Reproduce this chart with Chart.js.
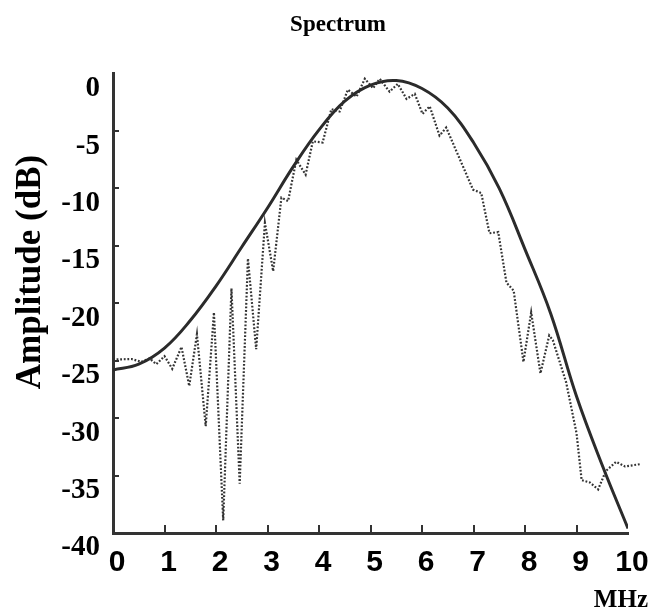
<!DOCTYPE html>
<html>
<head>
<meta charset="utf-8">
<title>Spectrum</title>
<script src="https://cdn.jsdelivr.net/npm/chart.js@4.4.1/dist/chart.umd.min.js"></script>
<style>
  html, body { margin: 0; padding: 0; background: #ffffff; }
  #wrap { width: 658px; height: 614px; }
</style>
</head>
<body>
<div id="wrap"><canvas id="spectrumChart"></canvas></div>
<script>
"use strict";

// frequency (MHz) and amplitude (dB) of the smooth model spectrum
const modelFreq = [0, 0.5, 1, 1.5, 2, 2.5, 3, 3.5, 4, 4.5, 5, 5.5, 6, 6.5, 7, 7.5, 8, 8.5, 9, 9.5, 10];
const modelAmp = [-25.8, -25.3, -23.9, -21.5, -18.5, -15.1, -11.7, -8.1, -4.9, -2.4, -1.0, -0.6, -1.3, -3.0, -6.0, -10.0, -15.3, -20.9, -28.1, -34.1, -39.6];

// measured spectrum (dotted line)
const measFreq = [0, 0.36, 0.55, 0.71, 0.84, 1.0, 1.15, 1.33, 1.48, 1.63, 1.8, 1.96, 2.14, 2.3, 2.46, 2.62, 2.78, 2.95, 3.11, 3.27, 3.4, 3.56, 3.74, 3.88, 4.07, 4.24, 4.4, 4.56, 4.73, 4.89, 5.05, 5.18, 5.37, 5.53, 5.7, 5.86, 6.01, 6.15, 6.34, 6.47, 6.99, 7.15, 7.31, 7.48, 7.64, 7.78, 7.97, 8.12, 8.3, 8.47, 8.54, 8.8, 9.0, 9.1, 9.26, 9.42, 9.57, 9.77, 9.94, 10.25];
const measAmp = [-24.9, -24.85, -25.1, -24.8, -25.3, -24.6, -25.7, -23.8, -27.2, -22.7, -30.7, -20.8, -38.9, -18.7, -35.7, -16.1, -24.0, -13.0, -17.2, -10.8, -11.1, -7.5, -8.8, -5.9, -6.0, -3.1, -3.3, -1.4, -2.0, -0.45, -1.27, -0.46, -1.57, -0.9, -2.2, -1.77, -3.5, -2.85, -5.4, -4.7, -10.1, -10.4, -13.9, -13.8, -18.2, -18.9, -25.1, -20.8, -26.1, -22.8, -23.2, -26.9, -31.3, -35.4, -35.6, -36.2, -34.6, -33.8, -34.2, -34.0];

// axis ticks
const xTicks = [0, 1, 2, 3, 4, 5, 6, 7, 8, 9, 10];
const yTicks = [0, -5, -10, -15, -20, -25, -30, -35, -40];

const ink = "#333333";
const serif = "'Liberation Serif', 'Times New Roman', serif";
const sans = "'Liberation Sans Narrow', 'Arial Narrow', 'Liberation Sans', Arial, sans-serif";

function toPoints(xs, ys) {
	return xs.map(function (x, i) {
		return { x: x, y: ys[i] };
	});
}

// small tick marks pointing into the plot, the y title and the MHz unit label
const innerTicks = {
	id: "innerTicks",
	afterDraw(chart) {
		const ctx = chart.ctx;
		const xs = chart.scales.x;
		const ys = chart.scales.y;
		const area = chart.chartArea;
		ctx.save();
		ctx.strokeStyle = ink;
		ctx.lineWidth = 2;
		ctx.beginPath();
		xTicks.slice(1, -1).forEach(function (v) {
			const px = Math.round(xs.getPixelForValue(v));
			ctx.moveTo(px, area.bottom);
			ctx.lineTo(px, area.bottom - 8);
		});
		yTicks.slice(1, -1).forEach(function (v) {
			const py = Math.round(ys.getPixelForValue(v));
			ctx.moveTo(area.left, py);
			ctx.lineTo(area.left + 6, py);
		});
		ctx.stroke();

		ctx.fillStyle = "#000000";
		ctx.font = "bold 25px " + serif;
		ctx.textAlign = "right";
		ctx.textBaseline = "middle";
		ctx.fillText("MHz", 648, 601);

		// y axis title, reads bottom to top
		ctx.translate(31, 272);
		ctx.rotate(-Math.PI / 2);
		ctx.textAlign = "center";
		ctx.font = "bold 35px " + serif;
		ctx.fillText("Amplitude (dB)", 0, 0);
		ctx.restore();
	},
};

new Chart(document.getElementById("spectrumChart"), {
	type: "line",
	data: {
		datasets: [
			{
				label: "Model",
				data: toPoints(modelFreq, modelAmp),
				borderColor: "#2b2b2b",
				borderWidth: 3,
				pointRadius: 0,
				tension: 0.4,
				fill: false,
			},
			{
				label: "Measured",
				data: toPoints(measFreq, measAmp),
				borderColor: ink,
				borderWidth: 2.2,
				borderDash: [1.8, 1.8],
				pointRadius: 0,
				tension: 0,
				fill: false,
				clip: false,
			},
		],
	},
	options: {
		responsive: true,
		maintainAspectRatio: false,
		animation: false,
		layout: { padding: { left: 18, right: 0, top: 0, bottom: 0 } },
		plugins: {
			legend: { display: false },
			tooltip: { enabled: false },
			title: {
				display: true,
				text: "Spectrum",
				color: "#000000",
				font: { family: serif, size: 23, weight: "bold", lineHeight: 1.2 },
				padding: { top: 11, bottom: 35 },
			},
		},
		scales: {
			x: {
				type: "linear",
				min: 0,
				max: 10,
				afterBuildTicks(scale) {
					scale.ticks = xTicks.map(function (v) {
						return { value: v };
					});
				},
				afterFit(scale) {
					scale.height = 81;
				},
				grid: { display: false, drawTicks: false },
				border: { display: true, color: ink, width: 3 },
				ticks: {
					color: "#000000",
					padding: 12,
					labelOffset: 4,
					maxRotation: 0,
					font: { family: sans, size: 30, weight: "bold" },
				},
			},
			y: {
				type: "linear",
				min: -40,
				max: 0,
				afterBuildTicks(scale) {
					scale.ticks = yTicks.map(function (v) {
						return { value: v };
					});
				},
				afterFit(scale) {
					scale.width = 95;
				},
				grid: { display: false, drawTicks: false },
				border: { display: true, color: ink, width: 3 },
				ticks: {
					color: "#000000",
					padding: 13,
					labelOffset: 15,
					font: { family: serif, size: 29, weight: "bold" },
				},
			},
			yRight: {
				type: "linear",
				position: "right",
				display: true,
				grid: { display: false, drawTicks: false },
				border: { display: false },
				ticks: { display: false },
				afterFit(scale) {
					scale.width = 30;
				},
			},
		},
	},
	plugins: [innerTicks],
});
</script>
</body>
</html>
